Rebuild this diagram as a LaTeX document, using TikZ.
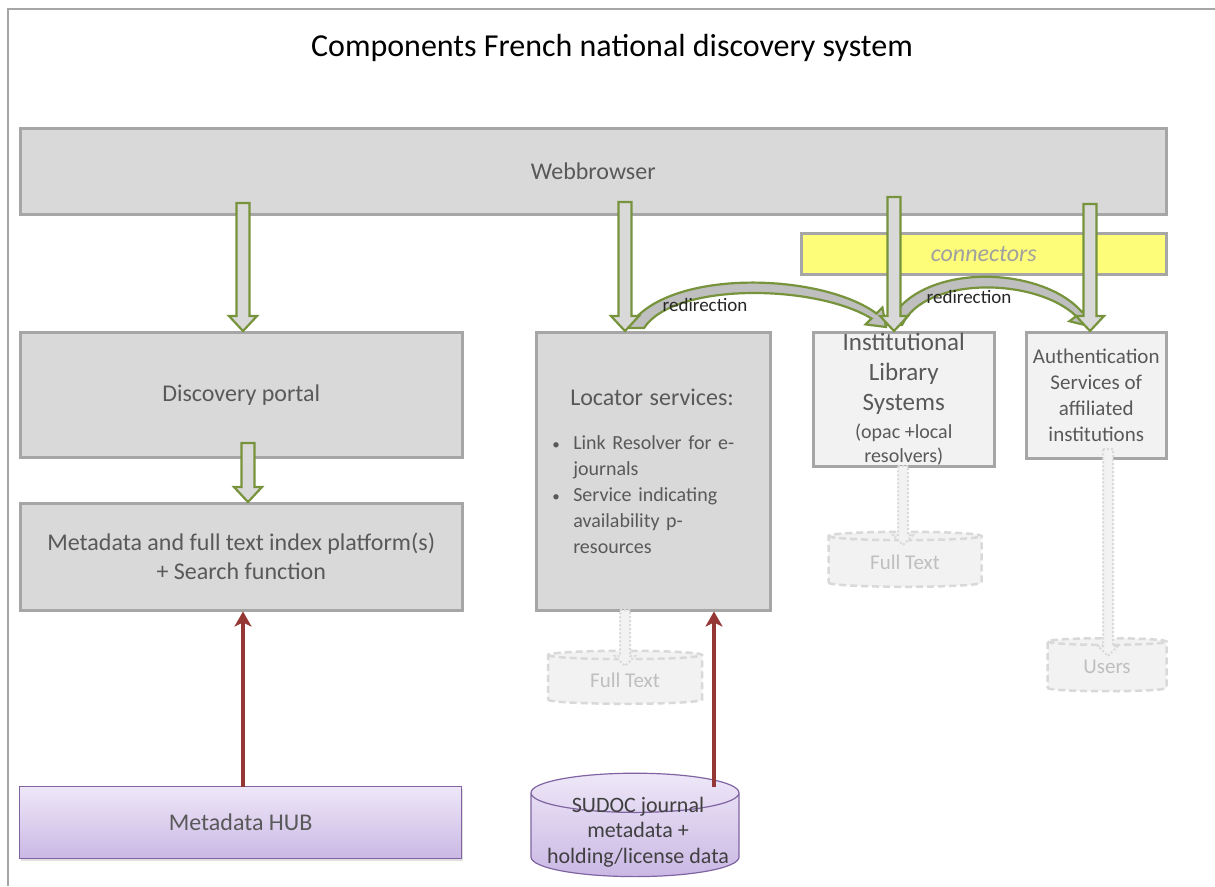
\documentclass[tikz,border=0pt]{standalone}
\usepackage{fontspec}
\setmainfont{Carlito}
\usetikzlibrary{calc,arrows.meta,shapes.geometric,shadows}
\definecolor{boxgray}{HTML}{D9D9D9}
\definecolor{boxlight}{HTML}{F2F2F2}
\definecolor{bordergray}{HTML}{A6A6A6}
\definecolor{textgray}{HTML}{595959}
\definecolor{arrowgreen}{HTML}{77933C}
\definecolor{connyellow}{RGB}{253,253,122}
\definecolor{conntext}{HTML}{A0A0A0}
\definecolor{purpleborder}{HTML}{8064A2}
\definecolor{purpletop}{HTML}{EEE7F8}
\definecolor{purplebot}{HTML}{CAB8E4}
\definecolor{darkred}{HTML}{953735}
\definecolor{ghost}{HTML}{D9D9D9}
\definecolor{ghosttext}{HTML}{BFBFBF}
\tikzset{
  graybox/.style={draw=bordergray, line width=2.5pt, fill=boxgray, text=textgray, anchor=north west, inner sep=2pt},
  lightbox/.style={graybox, fill=boxlight},
  hubbox/.style={draw=purpleborder, line width=1.2pt, top color=purpletop, bottom color=purplebot, text=textgray, anchor=north west,
     drop shadow={opacity=0.25, shadow xshift=1.5pt, shadow yshift=-2.5pt}},
  ghostcyl/.style={cylinder, shape border rotate=90, draw=ghost, dash pattern=on 7pt off 4pt, line width=2.5pt, fill=boxlight,
     text=ghosttext, inner sep=0pt, font=\fontsize{21}{25}\selectfont},
  greenblock/.style={draw=arrowgreen, line width=2.2pt, fill=boxgray, line join=miter},
  ghostblock/.style={draw=ghost, line width=2pt, dash pattern=on 2pt off 2pt, fill=boxlight},
  redarrow/.style={draw=darkred, line width=3.5pt, -{Stealth[length=15pt,width=17pt,inset=4pt]}},
  redirlabel/.style={text=black!85, font=\fontsize{19}{22}\selectfont, inner sep=1pt},
  sudocfont/.style={align=center, font=\fontsize{22}{25.5}\selectfont},
}
% #1 style, #2 start, #3 end, #4 shaft half width, #5 head half width, #6 head length
\newcommand{\blockdown}[6]{%
  \path[#1] let \p1=(#2), \p2=(#3) in
    ({\x1-#4pt},\y1) -- ({\x1+#4pt},\y1) -- ({\x1+#4pt},{\y2+#6pt}) -- ({\x1+#5pt},{\y2+#6pt})
    -- (\x1,\y2) -- ({\x1-#5pt},{\y2+#6pt}) -- ({\x1-#4pt},{\y2+#6pt}) -- cycle;}
\newcommand{\bul}{\makebox[23pt][l]{\hspace{2pt}{\fontsize{15}{15}\selectfont •}}}
\begin{document}
\begin{tikzpicture}[x=1pt,y=-1pt]
\useasboundingbox (0,0) rectangle (1215,886);
\fill[white] (0,0) rectangle (1215,886);
% frame
\draw[bordergray, line width=1.5pt] (8,886) -- (8,9) -- (1215,9);
% title
\node[font=\fontsize{32}{38}\selectfont, text=black] (title) at (612,48) {Components French national discovery system};

% boxes
\node[graybox, minimum width=1146pt, minimum height=86pt, font=\fontsize{24}{29}\selectfont] (web) at (19,127) {Webbrowser};
\node[draw=bordergray, line width=2.5pt, fill=connyellow, anchor=north west, minimum width=365pt, minimum height=41pt,
      text=conntext, font=\fontsize{24}{29}\selectfont\itshape] (conn) at (800,232) {connectors};
\node[graybox, minimum width=442pt, minimum height=125pt, font=\fontsize{24}{29}\selectfont] (disc) at (19,331) {Discovery portal};
\node[graybox, minimum width=442pt, minimum height=107pt, align=center, font=\fontsize{24}{29}\selectfont] (idx) at (19,502)
   {Metadata and full text index platform(s)\\+ Search function};
\node[graybox, minimum width=234pt, minimum height=278pt, text width=206pt, align=left, font=\fontsize{20}{26}\selectfont] (loc) at (535,331)
   {{\fontsize{24}{29}\selectfont\hspace*{20pt}Locator services:}\\[18pt]
    \bul Link Resolver for e-\\
    \hspace*{23pt}journals\\
    \bul Service indicating\\
    \hspace*{23pt}availability p-\\
    \hspace*{23pt}resources};
\node[lightbox, minimum width=181pt, minimum height=134pt, align=center, font=\fontsize{25}{30}\selectfont, inner sep=0pt] (inst) at (812,331)
   {Institutional\\Library\\Systems\\[-2pt]{\fontsize{20}{22}\selectfont(opac +local}\\[-6pt]{\fontsize{20}{22}\selectfont resolvers)}};
\node[lightbox, minimum width=140pt, minimum height=126pt, align=center, font=\fontsize{21}{26}\selectfont, inner sep=0pt] (auth) at (1025,331)
   {Authentication\\Services of\\affiliated\\institutions};
\node[hubbox, minimum width=442pt, minimum height=72pt, font=\fontsize{24}{29}\selectfont] (hub) at (19,786) {Metadata HUB};
\node[cylinder, shape border rotate=90, aspect=0.2, draw=purpleborder, line width=1.2pt, top color=purpletop, bottom color=purplebot,
      minimum width=208pt, minimum height=100pt, inner sep=0pt] (sudoc) at (635,835) {\rule{196pt}{0pt}\rule{0pt}{44pt}};
\node[sudocfont, text=black!75, inner sep=0pt] (sudoctext) at (638,832) {SUDOC journal\\metadata +\\holding/license data};

% ghost cylinders
\node[ghostcyl, aspect=0.12, minimum width=154pt, minimum height=53pt] (ft1) at (625,680) {Full Text};
\node[ghostcyl, aspect=0.12, minimum width=153pt, minimum height=55pt] (ft2) at (905,562) {Full Text};
\node[ghostcyl, aspect=0.14, minimum width=119pt, minimum height=53pt] (users) at (1107,667) {Users};

% dotted ghost arrows
\coordinate (g1s) at (625,610); \coordinate (g1e) at (625,666);
\coordinate (g2s) at (903,466); \coordinate (g2e) at (903,545);
\coordinate (g3s) at (1108,449); \coordinate (g3e) at (1108,656);
\blockdown{ghostblock}{g1s}{g1e}{5}{10}{10}
\blockdown{ghostblock}{g2s}{g2e}{5}{10}{10}
\blockdown{ghostblock}{g3s}{g3e}{5}{10}{10}

% red arrows
\coordinate (h1) at (243,787);
\draw[redarrow] (h1) -- (h1 |- idx.south);
\coordinate (s1) at (714,787);
\draw[redarrow] (s1) -- (s1 |- loc.south);

% redirection curved arrows
\path[greenblock, fill=ghosttext] (628,328) .. controls (664,268) and (820,272) .. (876.5,313.5) -- (882.4,307.6) -- (886,327)
   -- (865.6,324.4) -- (871.5,318.5) .. controls (815,284) and (674,282) .. (644,328) -- cycle;
\path[greenblock, fill=ghosttext] (888,325) .. controls (915,262) and (1040,264) .. (1081.8,311.9) -- (1088.6,306.8) -- (1089,326)
   -- (1069.4,321.2) -- (1076.2,316.1) .. controls (1035,277) and (925,276) .. (902,325) -- cycle;
\node[redirlabel] (r1) at (705,305) {redirection};
\node[redirlabel] (r2) at (969,297) {redirection};

% green block arrows
\coordinate (a1) at (243,203);
\coordinate (a2) at (625,202);
\coordinate (a3) at (894,197);
\coordinate (a4) at (1090,204);
\coordinate (a5) at (248,443);
\blockdown{greenblock}{a1}{a1 |- disc.north}{6.5}{14}{15}
\blockdown{greenblock}{a2}{a2 |- loc.north}{6.5}{14}{15}
\blockdown{greenblock}{a3}{a3 |- inst.north}{6.5}{14}{15}
\blockdown{greenblock}{a4}{a4 |- auth.north}{6.5}{14}{15}
\blockdown{greenblock}{a5}{a5 |- idx.north}{6.5}{14}{15}
\end{tikzpicture}
\end{document}
